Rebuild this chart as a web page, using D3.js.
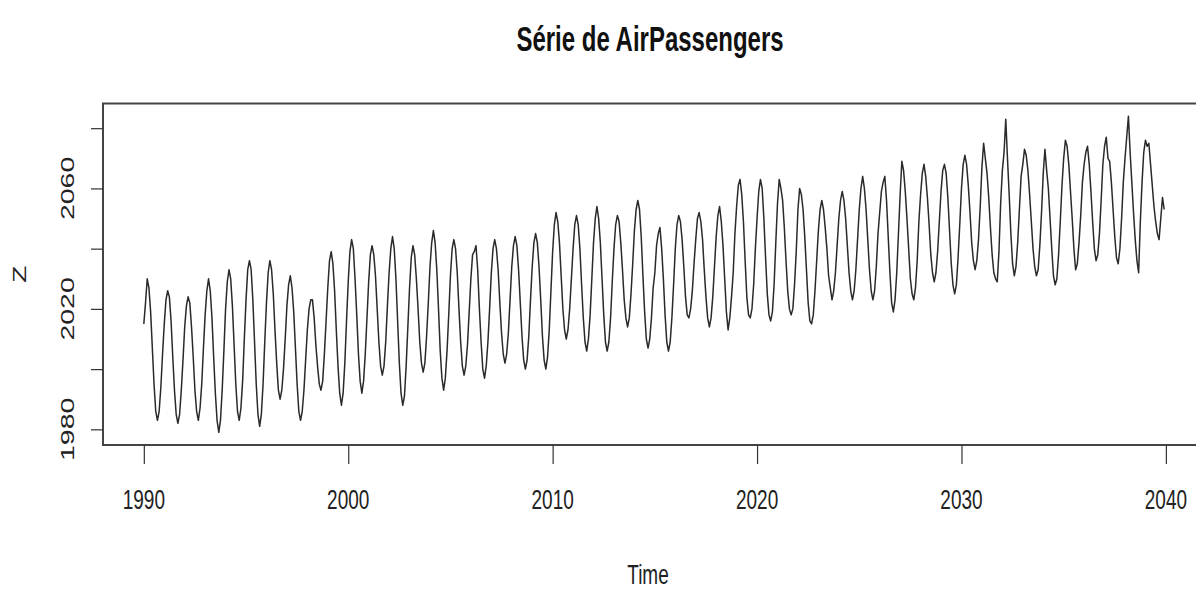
<!DOCTYPE html>
<html><head><meta charset="utf-8">
<script src="https://cdn.jsdelivr.net/npm/d3@7"></script>
<style>body{margin:0;background:#fff;overflow:hidden}</style>
</head><body>
<svg id="chart" width="1196" height="591"></svg>
<script>
const chartTitle = "Série de AirPassengers";
const xLabel = "Time";
const yLabel = "Z";
const startYear = 1990;
const frequency = 12;

const z1990s = [
 2015,2022,2030,2027,2019,2007,1995,1986,1983,1986,1994,2005,
 2015,2023,2026,2024,2016,2004,1993,1985,1982,1985,1993,2003,
 2014,2021,2024,2022,2014,2004,1993,1986,1983,1987,1995,2007,
 2018,2026,2030,2026,2017,2004,1992,1983,1979,1983,1993,2006,
 2020,2029,2033,2030,2021,2008,1995,1986,1983,1987,1996,2010,
 2023,2033,2036,2033,2023,2009,1995,1985,1981,1985,1995,2009,
 2022,2032,2036,2033,2025,2013,2002,1993,1990,1993,2000,2010,
 2021,2028,2031,2027,2019,2007,1995,1986,1983,1986,1993,2003,
 2013,2020,2023,2023,2017,2008,2001,1995,1993,1996,2005,2016,
 2027,2036,2039,2035,2026,2013,2001,1992,1988,1992,2002,2016
];
const z2000s = [
 2029,2039,2043,2040,2030,2018,2005,1996,1992,1996,2005,2017,
 2029,2038,2041,2038,2031,2020,2009,2001,1998,2001,2009,2021,
 2032,2040,2044,2040,2030,2016,2002,1992,1988,1991,2001,2014,
 2027,2037,2041,2038,2030,2020,2009,2002,1999,2002,2011,2022,
 2034,2042,2046,2042,2033,2020,2006,1997,1993,1997,2006,2018,
 2031,2040,2043,2040,2032,2020,2009,2001,1998,2001,2008,2019,
 2030,2038,2039,2041,2033,2020,2009,2000,1997,2001,2009,2020,
 2032,2040,2043,2040,2033,2022,2012,2005,2002,2005,2012,2023,
 2034,2041,2044,2041,2033,2022,2011,2003,2000,2003,2011,2023,
 2034,2042,2045,2042,2034,2023,2011,2003,2000,2004,2013,2026
];
const z2010s = [
 2039,2048,2052,2049,2042,2031,2020,2013,2010,2013,2020,2030,
 2040,2048,2051,2048,2040,2028,2017,2009,2006,2010,2018,2030,
 2042,2050,2054,2050,2042,2030,2018,2009,2006,2009,2017,2029,
 2040,2048,2051,2049,2042,2033,2023,2017,2014,2017,2025,2035,
 2046,2053,2056,2053,2044,2031,2019,2010,2007,2010,2017,2027,
 2032,2041,2045,2047,2040,2030,2018,2009,2006,2009,2017,2028,
 2040,2048,2051,2049,2043,2034,2024,2018,2017,2020,2026,2035,
 2043,2050,2052,2049,2043,2033,2024,2017,2014,2017,2024,2034,
 2044,2051,2054,2049,2041,2030,2019,2013,2017,2024,2032,2045,
 2054,2061,2063,2058,2049,2036,2024,2018,2017,2020,2028,2040
];
const z2020s = [
 2050,2059,2063,2060,2050,2037,2025,2018,2016,2019,2028,2042,
 2055,2063,2060,2056,2047,2036,2026,2020,2018,2020,2028,2039,
 2053,2060,2058,2053,2044,2033,2022,2016,2015,2018,2026,2036,
 2046,2053,2056,2053,2047,2040,2031,2027,2023,2026,2032,2041,
 2050,2056,2059,2056,2050,2041,2032,2026,2023,2026,2033,2043,
 2053,2060,2064,2060,2053,2043,2033,2026,2023,2026,2034,2045,
 2052,2059,2062,2064,2056,2044,2032,2022,2019,2023,2032,2045,
 2058,2069,2066,2059,2050,2040,2030,2025,2023,2027,2036,2049,
 2058,2065,2068,2064,2057,2048,2038,2032,2029,2032,2039,2049,
 2059,2066,2068,2065,2057,2046,2035,2028,2025,2028,2037,2048
];
const z2030s = [
 2060,2068,2071,2068,2061,2052,2042,2036,2033,2036,2043,2054,
 2067,2075,2070,2065,2057,2047,2038,2032,2030,2029,2039,2055,
 2066,2072,2083,2070,2058,2045,2035,2031,2034,2042,2053,2064,
 2068,2073,2071,2066,2058,2049,2040,2034,2031,2033,2041,2052,
 2065,2073,2066,2060,2050,2040,2031,2028,2030,2038,2049,2061,
 2070,2076,2074,2068,2059,2050,2040,2033,2035,2042,2051,2062,
 2068,2072,2074,2068,2059,2049,2040,2036,2038,2045,2056,2068,
 2074,2077,2070,2069,2062,2053,2044,2037,2035,2040,2050,2062,
 2070,2077,2084,2072,2062,2052,2043,2036,2032,2049,2062,2072,
 2076,2074,2075,2068,2061,2054,2049,2045,2043,2050,2057,2053
];

const xTicks = [1990, 2000, 2010, 2020, 2030, 2040];
const yTicks = [1980, 2000, 2020, 2040, 2060, 2080];
const yTickLabels = ["1980", "", "2020", "", "2060", ""];

const values = [].concat(z1990s, z2000s, z2010s, z2020s, z2030s);
const series = values.map((v, i) => ({t: startYear + i / frequency, v}));

const box = {left: 103, right: 1205, top: 103.5, bottom: 445};
const stretch = 1.5;
const fontFam = "'Liberation Sans', Arial, Helvetica, sans-serif";
const textCol = "#222";

const svg = d3.select("#chart");

const tExt = d3.extent(series, d => d.t);
const tPad = 0.04 * (tExt[1] - tExt[0]);
const vExt = d3.extent(series, d => d.v);
const vPad = 0.04 * (vExt[1] - vExt[0]);

const x = d3.scaleLinear().domain([tExt[0] - tPad, tExt[1] + tPad]).range([box.left, box.right]);
const y = d3.scaleLinear().domain([vExt[0] - vPad, vExt[1] + vPad]).range([box.bottom, box.top]);

// series line
svg.append("path")
  .datum(series)
  .attr("fill", "none")
  .attr("stroke", "#2a2a2a")
  .attr("stroke-width", 1.5)
  .attr("stroke-linejoin", "round")
  .attr("d", d3.line().x(d => x(d.t)).y(d => y(d.v)));

// box
svg.append("rect")
  .attr("x", box.left).attr("y", box.top)
  .attr("width", box.right - box.left).attr("height", box.bottom - box.top)
  .attr("fill", "none").attr("stroke", "#444").attr("stroke-width", 2);

// x axis
const xAxis = d3.axisBottom(x).tickValues(xTicks).tickSize(19).tickFormat(() => "");
const gx = svg.append("g").attr("transform", `translate(0,${box.bottom})`).call(xAxis);
gx.select(".domain").remove();
gx.selectAll(".tick line").attr("stroke", "#333").attr("stroke-width", 1.2);

svg.append("g").selectAll("g").data(xTicks).join("g")
  .attr("transform", d => `translate(${x(d)},499) scale(1,${stretch})`)
  .append("text")
  .attr("text-anchor", "middle").attr("dominant-baseline", "central")
  .attr("font-family", fontFam).attr("font-size", 19).attr("fill", textCol)
  .text(d => String(d));

// y axis
const yAxis = d3.axisLeft(y).tickValues(yTicks).tickSize(12).tickFormat(() => "");
const gy = svg.append("g").attr("transform", `translate(${box.left},0)`).call(yAxis);
gy.select(".domain").remove();
gy.selectAll(".tick line").attr("stroke", "#333").attr("stroke-width", 1.2);

svg.append("g").selectAll("g").data(yTicks.map((t, i) => ({t, lab: yTickLabels[i]})).filter(d => d.lab))
  .join("g")
  .attr("transform", d => `translate(67,${y(d.t)}) rotate(-90) scale(${stretch},1)`)
  .append("text")
  .attr("text-anchor", "middle").attr("dominant-baseline", "central")
  .attr("font-family", fontFam).attr("font-size", 19).attr("fill", textCol)
  .text(d => d.lab);

// title
svg.append("g").attr("transform", `translate(${(box.left + box.right) / 2 - 4},38) scale(1,${stretch})`)
  .append("text")
  .attr("text-anchor", "middle").attr("dominant-baseline", "central")
  .attr("font-family", fontFam).attr("font-size", 24).attr("font-weight", "bold").attr("fill", "#111")
  .text(chartTitle);

// axis titles
svg.append("g").attr("transform", `translate(${(box.left + box.right) / 2 - 6},574) scale(1,${stretch})`)
  .append("text")
  .attr("text-anchor", "middle").attr("dominant-baseline", "central")
  .attr("font-family", fontFam).attr("font-size", 19).attr("fill", textCol)
  .text(xLabel);

svg.append("g").attr("transform", `translate(19,${(box.top + box.bottom) / 2}) rotate(-90) scale(${stretch},1)`)
  .append("text")
  .attr("text-anchor", "middle").attr("dominant-baseline", "central")
  .attr("font-family", fontFam).attr("font-size", 19).attr("fill", textCol)
  .text(yLabel);
</script>
</body></html>
